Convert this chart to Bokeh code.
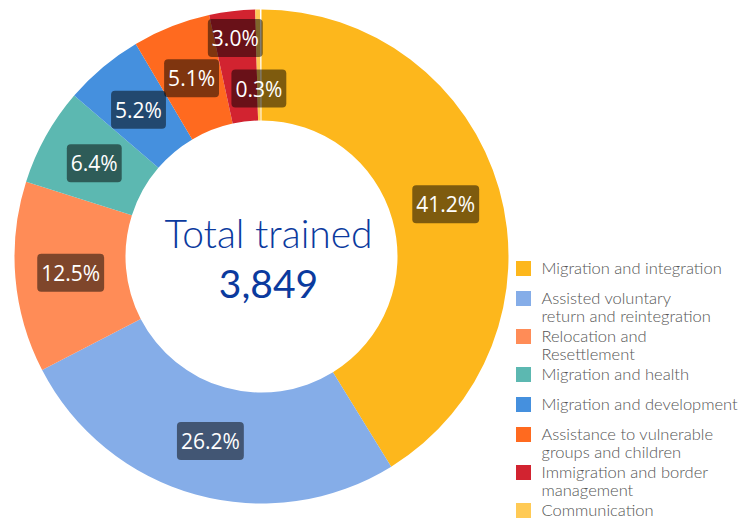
import numpy as np
from bokeh.plotting import figure
from bokeh.models import Range1d, ColumnDataSource
from bokeh.core.properties import value
from bokeh.embed import file_html
from bokeh.resources import INLINE

categories = ["Migration and integration",
              "Assisted voluntary\nreturn and reintegration",
              "Relocation and\nResettlement",
              "Migration and health",
              "Migration and development",
              "Assistance to vulnerable\ngroups and children",
              "Immigration and border\nmanagement",
              "Communication"]
shares = [41.2, 26.2, 12.5, 6.4, 5.2, 5.1, 3.0, 0.3]
colors = ["#FDB71C", "#85ADE8", "#FF8C57", "#5CB8B1", "#4590DE", "#FF6A1F", "#D22330", "#FFCA55"]
label_radius = [191.5, 191.5, 191.5, 191.5, 191.5, 191.5, 220, 168]
total_trained = "3,849"

W, H = 756, 520
p = figure(width=W, height=H, output_backend="svg", toolbar_location=None,
           x_range=Range1d(0, W), y_range=Range1d(0, H), min_border=0)
p.axis.visible = False
p.grid.visible = False
p.outline_line_color = None
p.background_fill_color = "white"

def Y(yimg):
    return H - yimg

cx, cy = 261, Y(256)
r_in, r_out = 136, 247

vals = np.array(shares)
cum = np.concatenate([[0], np.cumsum(vals)]) / 100.0
start = np.pi / 2 - cum[:-1] * 2 * np.pi
end = np.pi / 2 - cum[1:] * 2 * np.pi
mid = (start + end) / 2

src = ColumnDataSource(dict(start=start, end=end, color=colors))
p.annular_wedge(x=cx, y=cy, inner_radius=r_in, outer_radius=r_out,
                start_angle="start", end_angle="end", direction="clock",
                fill_color="color", line_color=None, source=src)

lr = np.array(label_radius)
lsrc = ColumnDataSource(dict(x=cx + lr * np.cos(mid), y=cy + lr * np.sin(mid),
                             t=["%.1f%%" % v for v in shares]))
p.text(x="x", y="y", text="t", source=lsrc, text_font=value("Open Sans"),
       text_font_size="21px", text_color="white", text_align="center",
       text_baseline="middle", background_fill_color="black",
       background_fill_alpha=0.5, border_radius=4, padding=[4, 4, 5, 5])

# centre text
p.text(x=[268], y=[Y(232)], text=["Total trained"], text_font=value("Lato Light"),
       text_font_size="39px", text_color="#0B3A9E",
       text_align="center", text_baseline="middle")
p.text(x=[268], y=[Y(283)], text=[total_trained], text_font=value("Lato"),
       text_font_size="39px", text_color="#0B3A9E",
       text_align="center", text_baseline="middle")

# legend
ys = []
yy = 268
for c in categories:
    ys.append(yy)
    yy += 38 if "\n" in c else 30
lgsrc = ColumnDataSource(dict(x=[523] * len(categories), y=[Y(v) for v in ys],
                              tx=[541] * len(categories), c=colors, t=categories))
p.rect(x="x", y="y", width=15, height=15, fill_color="c", line_color=None, source=lgsrc)
p.text(x="tx", y="y", text="t", source=lgsrc, text_font=value("Lato Light"),
       text_font_size="16.5px", text_color="#555555", text_align="left",
       text_baseline="top", y_offset=-11, text_line_height=0.9)

open("out.html", "w").write(file_html(p, INLINE))
